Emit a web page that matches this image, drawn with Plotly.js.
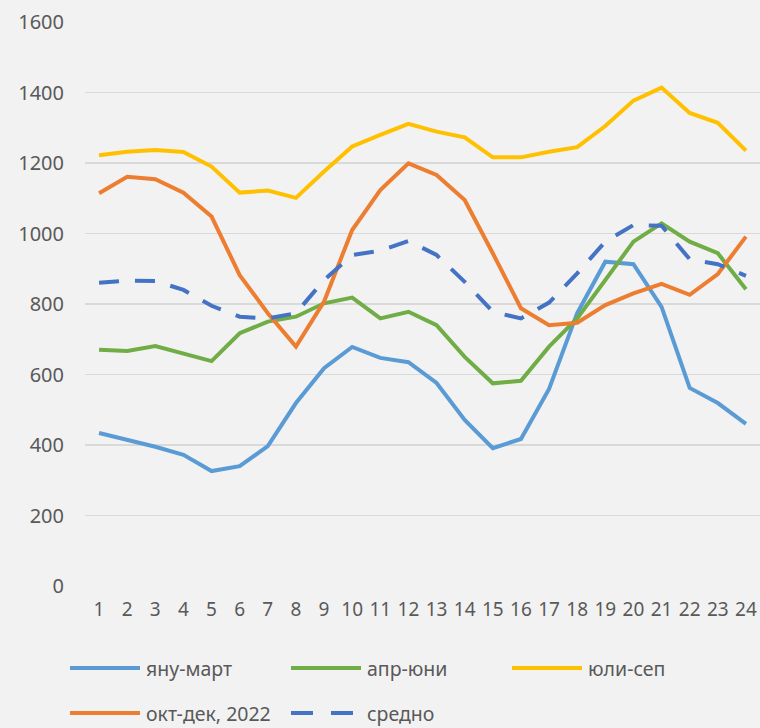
<!DOCTYPE html>
<html>
<head>
<meta charset="utf-8">
<script src="https://cdn.plot.ly/plotly-3.0.1.min.js"></script>
<style>
  html, body { margin: 0; padding: 0; background: #f2f2f2; }
  #chart { width: 760px; height: 728px; }
</style>
</head>
<body>
<div id="chart"></div>
<script>
const hours = ['1','2','3','4','5','6','7','8','9','10','11','12','13','14','15','16','17','18','19','20','21','22','23','24'];
const janMar = [434,414,395,372,326,340,397,519,618,678,647,635,576,471,391,417,559,774,920,913,792,562,519,460];
const aprJun = [670,667,681,660,638,717,750,764,802,818,759,778,740,650,575,582,679,759,868,977,1029,977,944,842];
const julSep = [1222,1232,1237,1231,1190,1116,1122,1101,1176,1247,1280,1311,1289,1273,1216,1216,1232,1245,1305,1377,1414,1342,1314,1235];
const octDec = [1114,1161,1154,1116,1048,882,774,679,807,1010,1123,1199,1166,1095,944,788,740,747,797,830,857,826,885,991];
const average = [860,866,865,840,795,764,759,774,868,939,951,979,939,863,778,759,804,887,977,1024,1022,927,913,880];
const seriesNames = ['яну-март','апр-юни','юли-сеп','окт-дек, 2022','средно'];
const yTicks = [0,200,400,600,800,1000,1200,1400,1600];

const colors = ['#5b9bd5','#70ad47','#ffc000','#ed7d31','#4472c4'];
const dataArr = [janMar, aprJun, julSep, octDec, average];
const DASH = '20px,16px';

const traces = dataArr.map((vals, i) => ({
  type: 'scatter',
  mode: 'lines',
  x: hours,
  y: vals,
  name: seriesNames[i],
  line: {
    color: colors[i],
    width: 4,
    dash: i === 4 ? DASH : 'solid'
  },
  showlegend: false
}));

// Custom legend (pixel layout in paper coords)
const W = 760, H = 728;
const mL = 85, mR = 0, mT = 22, mB = 142;
const pw = W - mL - mR, ph = H - mT - mB;
const px = x => (x - mL) / pw;
const py = y => (H - mB - y) / ph;

const legendItems = [
  {x0: 70, x1: 140, y: 668, tx: 145},
  {x0: 291, x1: 361, y: 668, tx: 366},
  {x0: 512, x1: 582, y: 668, tx: 587},
  {x0: 70, x1: 140, y: 713, tx: 145},
  {x0: 291, x1: 361, y: 713, tx: 366}
];
const shapes = [];
const annotations = [];
legendItems.forEach((it, i) => {
  shapes.push({
    type: 'line', xref: 'paper', yref: 'paper',
    x0: px(it.x0), x1: px(it.x1), y0: py(it.y), y1: py(it.y),
    line: {color: colors[i], width: 4.2, dash: i === 4 ? '22px,18px' : 'solid'}
  });
  annotations.push({
    xref: 'paper', yref: 'paper', x: px(it.tx), y: py(it.y),
    xanchor: 'left', yanchor: 'middle', showarrow: false,
    borderpad: 0,
    text: seriesNames[i],
    font: {family: 'Noto Sans, sans-serif', size: 19.5, color: '#595959'}
  });
});

const layout = {
  width: W, height: H,
  margin: {l: mL, r: mR, t: mT, b: mB, pad: 0},
  paper_bgcolor: '#f2f2f2',
  plot_bgcolor: '#f2f2f2',
  font: {family: 'Noto Sans, sans-serif', size: 19, color: '#595959'},
  xaxis: {
    type: 'category',
    range: [-0.5, 23.5],
    showgrid: false,
    zeroline: false,
    showline: false,
    ticks: '',
    ticklabelstandoff: 10,
    tickfont: {size: 19, color: '#595959'},
    fixedrange: true
  },
  yaxis: {
    range: [0, 1600],
    tickvals: yTicks,
    ticktext: yTicks.map(String),
    showgrid: true,
    gridcolor: '#d9d9d9',
    gridwidth: 1.3,
    zeroline: false,
    showline: false,
    ticks: '',
    ticklabelstandoff: 20,
    tickfont: {size: 20, color: '#595959'},
    fixedrange: true
  },
  shapes: shapes,
  annotations: annotations,
  showlegend: false
};

Plotly.newPlot('chart', traces, layout, {staticPlot: true, displayModeBar: false});
</script>
</body>
</html>
